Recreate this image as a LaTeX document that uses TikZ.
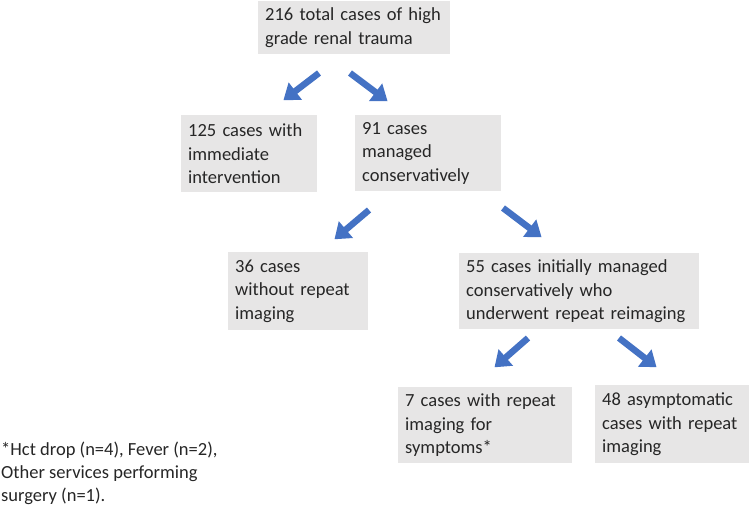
\documentclass[tikz,border=0pt]{standalone}
\usepackage{fontspec}
\setmainfont{Carlito}
\usetikzlibrary{arrows.meta}
\definecolor{boxgray}{RGB}{231,230,230}
\definecolor{arrowblue}{RGB}{68,114,196}
\begin{document}
\begin{tikzpicture}[x=1pt,y=-1pt,
  cbox/.style={fill=boxgray, anchor=north west, inner xsep=7pt, inner ysep=0pt,
    align=left, font=\fontsize{18.5}{23.5}\selectfont, text=black!85},
  barrow/.style={draw=arrowblue, line width=6.5pt,
    -{Triangle[length=15pt,width=21pt]}, shorten >=-2pt},
]
\useasboundingbox (0,0) rectangle (750,507);
\node[cbox, text width=178pt, minimum height=53pt] (top) at (258,1) {216 total cases of high\\grade renal trauma};
\node[cbox, text width=122pt, minimum height=77pt] (imm) at (181,115) {125 cases with\\immediate\\intervention};
\node[cbox, text width=132pt, minimum height=76pt] (cons) at (355,115) {91 cases\\managed\\conservatively};
\node[cbox, text width=126pt, minimum height=78pt] (norep) at (228,252) {36 cases\\without repeat\\imaging};
\node[cbox, text width=226pt, minimum height=76pt] (rep) at (459,253) {55 cases initially managed\\conservatively who\\underwent repeat reimaging};
\node[cbox, text width=160pt, minimum height=76pt] (sym) at (398,387) {7 cases with repeat\\imaging for\\symptoms*};
\node[cbox, text width=140pt, minimum height=78pt] (asym) at (595,385) {48 asymptomatic\\cases with repeat\\imaging};
\node[anchor=north west, inner sep=0pt, align=left, font=\fontsize{18.5}{23}\selectfont, text=black!85] (note) at (1,442)
  {*Hct drop (n=4), Fever (n=2),\\Other services performing\\surgery (n=1).};
% arrow end points
\coordinate (a1s) at (319,73); \coordinate (a1e) at (285,99);
\coordinate (a2s) at (350,73); \coordinate (a2e) at (386,100);
\coordinate (a3s) at (369,210); \coordinate (a3e) at (336,238);
\coordinate (a4s) at (503,208); \coordinate (a4e) at (540,236);
\coordinate (a5s) at (528,338); \coordinate (a5e) at (496,366);
\coordinate (a6s) at (619,338); \coordinate (a6e) at (655,366);
\draw[barrow] (a1s) -- (a1e);
\draw[barrow] (a2s) -- (a2e);
\draw[barrow] (a3s) -- (a3e);
\draw[barrow] (a4s) -- (a4e);
\draw[barrow] (a5s) -- (a5e);
\draw[barrow] (a6s) -- (a6e);
\end{tikzpicture}
\end{document}
